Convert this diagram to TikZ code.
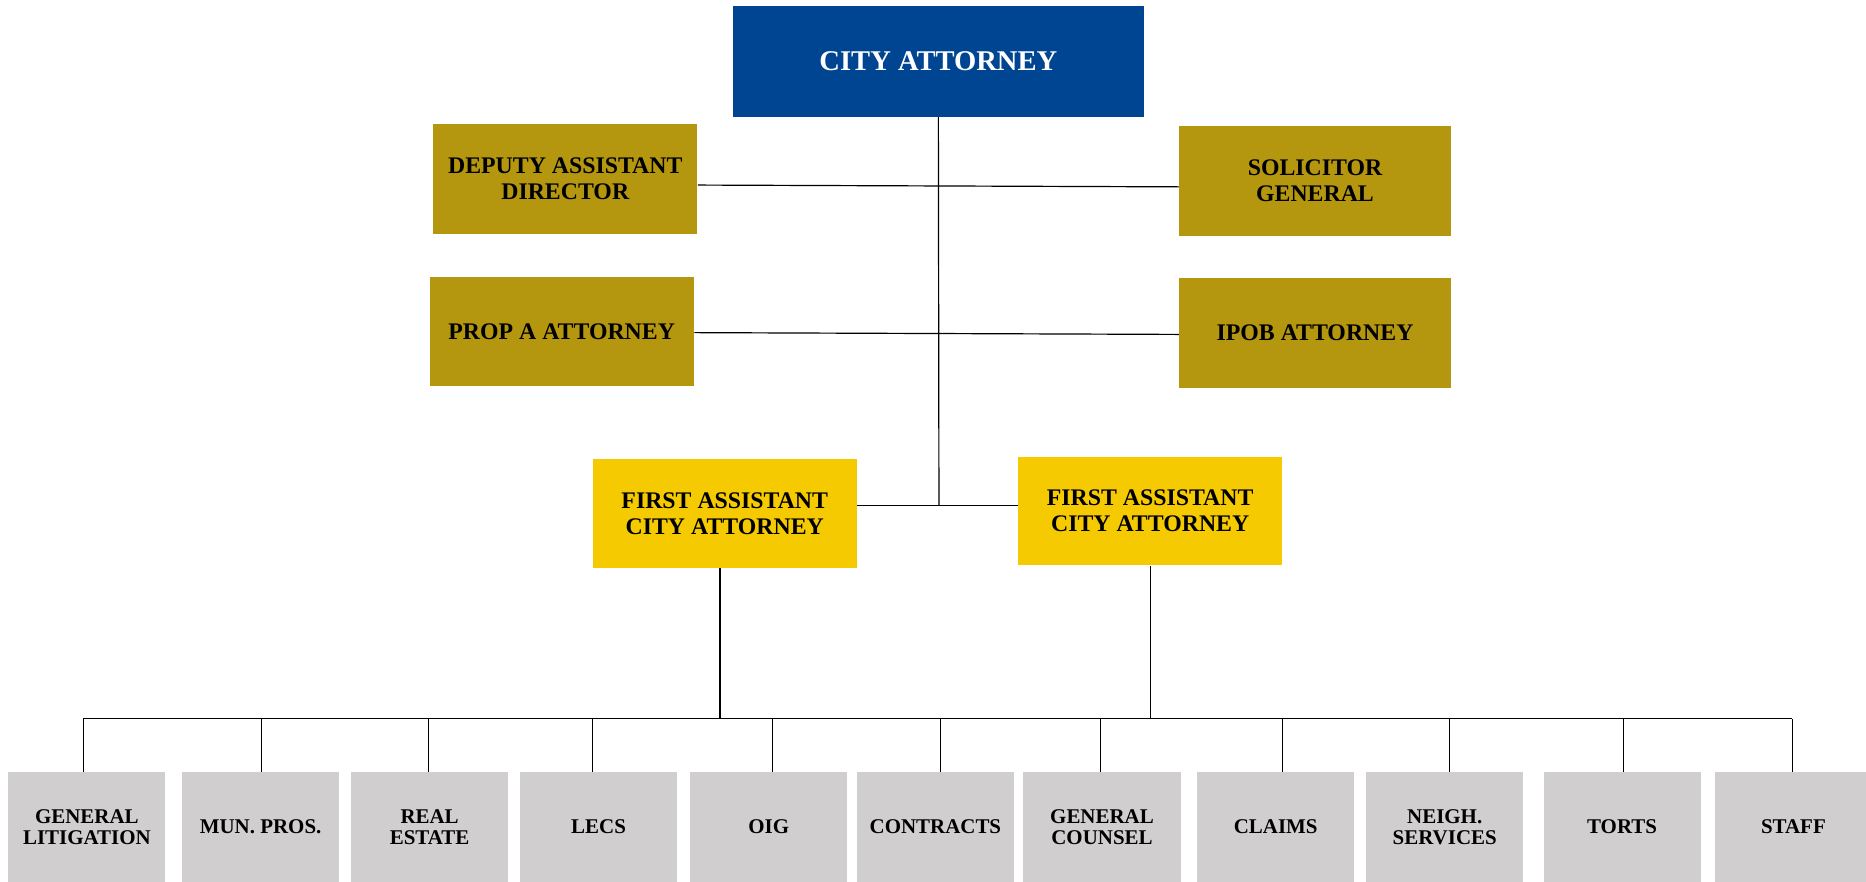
\documentclass[tikz,border=0pt]{standalone}
\usepackage{fontspec}
\setmainfont{Liberation Serif}
\definecolor{caBlue}{RGB}{0,69,145}
\definecolor{olBox}{RGB}{180,151,15}
\definecolor{ylBox}{RGB}{246,202,0}
\definecolor{grBox}{RGB}{208,206,207}
\tikzstyle{cS}=[fill=caBlue,text=white,minimum width=172.5pt,minimum height=46.5pt,inner sep=0pt,font=\fontsize{12}{12}\selectfont\bfseries,align=center]
\tikzstyle{oS}=[fill=olBox,minimum height=46pt,inner sep=0pt,font=\fontsize{10}{11}\selectfont\bfseries,align=center]
\tikzstyle{yS}=[fill=ylBox,minimum width=111pt,minimum height=45.5pt,inner sep=0pt,font=\fontsize{10}{11}\selectfont\bfseries,align=center]
\tikzstyle{gS}=[fill=grBox,minimum width=66pt,minimum height=46pt,inner sep=0pt,font=\fontsize{8.8}{9}\selectfont\bfseries,align=center]
\tikzstyle{lS}=[line width=0.5pt,draw=black]

\begin{document}
\begin{tikzpicture}[x=0.5pt,y=-0.5pt]
                \useasboundingbox (0,0) rectangle (1568,741);
                \draw (788.5,51.5) node[cS] (ca) {CITY ATTORNEY};
                \draw (475,150.5) node[oS,minimum width=111pt] (dad) {DEPUTY ASSISTANT\\DIRECTOR};
                \draw (1105,152) node[oS,minimum width=114pt] (sg) {SOLICITOR\\GENERAL};
                \draw (472,278.5) node[oS,minimum width=111pt] (pa) {PROP A ATTORNEY};
                \draw (1105,280) node[oS,minimum width=114pt] (ipob) {IPOB ATTORNEY};
                \draw (609,431.5) node[yS] (fa1) {FIRST ASSISTANT\\CITY ATTORNEY};
                \draw (966.5,429.5) node[yS] (fa2) {FIRST ASSISTANT\\CITY ATTORNEY};
                % divisions
                \draw (73,695) node[gS] (gl) {GENERAL\\LITIGATION};
                \draw (219,695) node[gS] (mp) {MUN. PROS.};
                \draw (361,695) node[gS] (re) {REAL\\ESTATE};
                \draw (503,695) node[gS] (lecs) {LECS};
                \draw (646,695) node[gS] (oig) {OIG};
                \draw (786,695) node[gS] (con) {CONTRACTS};
                \draw (926,695) node[gS] (gc) {GENERAL\\COUNSEL};
                \draw (1072,695) node[gS] (cl) {CLAIMS};
                \draw (1214,695) node[gS] (ns) {NEIGH.\\SERVICES};
                \draw (1363,695) node[gS] (to) {TORTS};
                \draw (1507,695) node[gS] (st) {STAFF};
                \coordinate (jA) at (789,425);
                \coordinate (bus) at (0,604);
                \path
                    (ca.south) edge[lS] (jA)
                    ([yshift=-2.5pt]dad.east) edge[lS] ([yshift=-2.5pt]sg.west)
                    ([yshift=-0.5pt]pa.east) edge[lS] ([yshift=-0.5pt]ipob.west)
                    (fa1.east |- jA) edge[lS] (fa2.west |- jA)
                    ([xshift=-2pt]fa1.south) edge[lS] ([xshift=-2pt]fa1.south |- bus)
                    (fa2.south) edge[lS] (fa2.south |- bus)
                    ([xshift=-1.5pt]gl.north |- bus) edge[lS] ([xshift=-0.5pt]st.north |- bus)
                    ([xshift=-1.5pt]gl.north |- bus) edge[lS] ([xshift=-1.5pt]gl.north)
                    ([xshift=0.5pt]mp.north |- bus) edge[lS] ([xshift=0.5pt]mp.north)
                    ([xshift=-0.5pt]re.north |- bus) edge[lS] ([xshift=-0.5pt]re.north)
                    ([xshift=-2.5pt]lecs.north |- bus) edge[lS] ([xshift=-2.5pt]lecs.north)
                    ([xshift=1.5pt]oig.north |- bus) edge[lS] ([xshift=1.5pt]oig.north)
                    ([xshift=2pt]con.north |- bus) edge[lS] ([xshift=2pt]con.north)
                    ([xshift=-0.5pt]gc.north |- bus) edge[lS] ([xshift=-0.5pt]gc.north)
                    ([xshift=3pt]cl.north |- bus) edge[lS] ([xshift=3pt]cl.north)
                    ([xshift=2pt]ns.north |- bus) edge[lS] ([xshift=2pt]ns.north)
                    ([xshift=0.5pt]to.north |- bus) edge[lS] ([xshift=0.5pt]to.north)
                    ([xshift=-0.5pt]st.north |- bus) edge[lS] ([xshift=-0.5pt]st.north)
                ;
        \end{tikzpicture}
\end{document}
